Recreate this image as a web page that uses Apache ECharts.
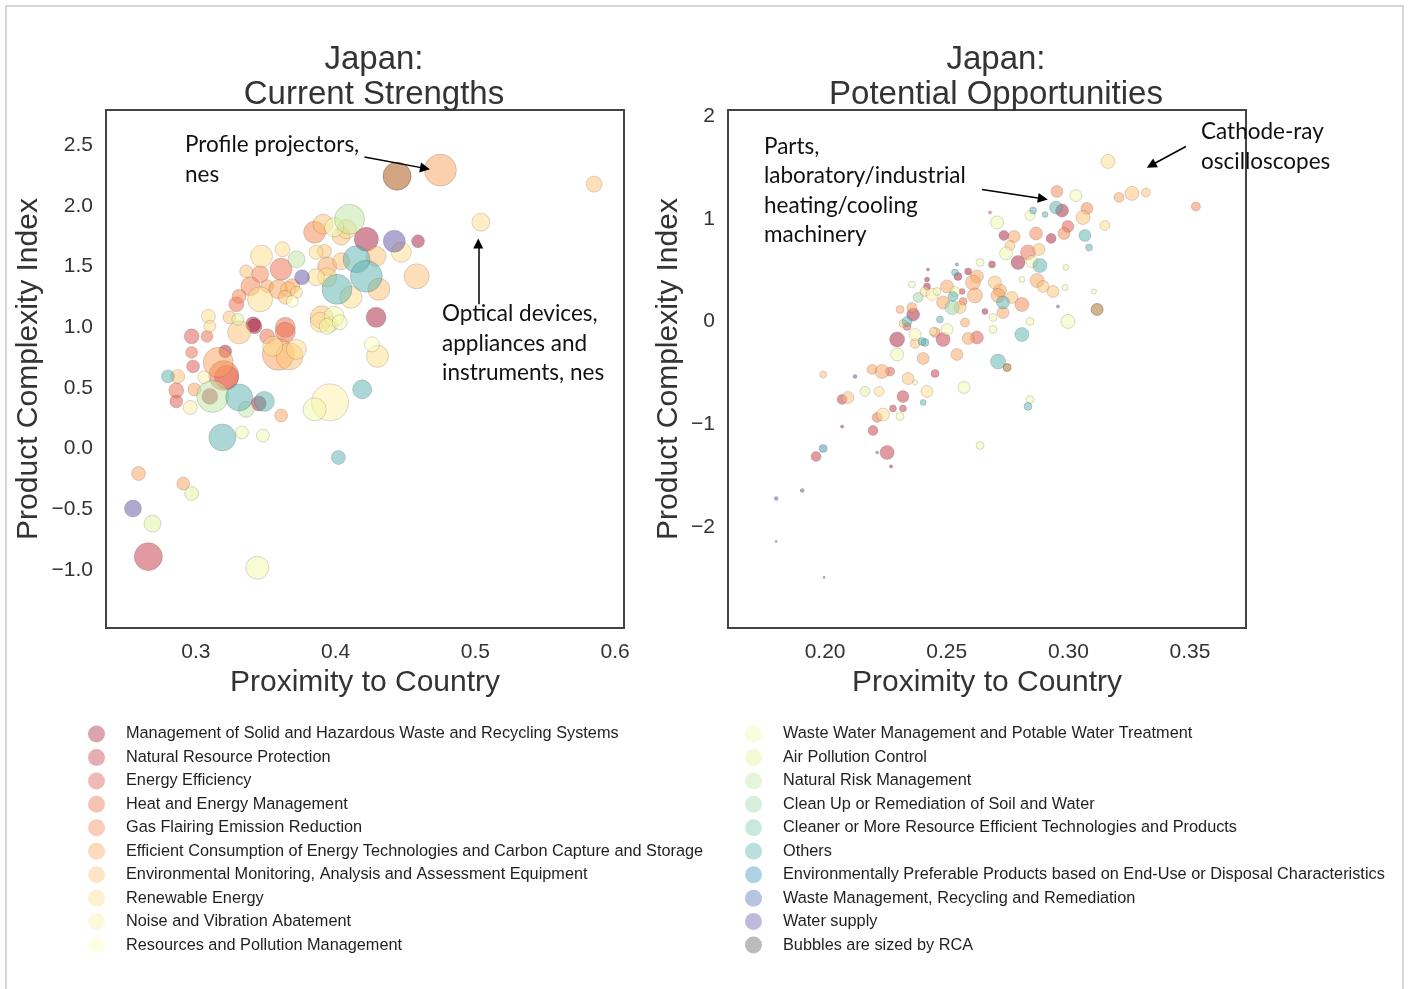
<!DOCTYPE html>
<html>
<head>
<meta charset="utf-8">
<script src="https://cdn.jsdelivr.net/npm/echarts@6/dist/echarts.min.js"></script>
<style>
  html, body { margin: 0; padding: 0; background: #ffffff; }
  #chart { width: 1408px; height: 989px; }
</style>
</head>
<body>
<div id="chart"></div>
<script>
// Environmental-goods product groups (legend order)
const categories = [
  'Management of Solid and Hazardous Waste and Recycling Systems',
  'Natural Resource Protection',
  'Energy Efficiency',
  'Heat and Energy Management',
  'Gas Flairing Emission Reduction',
  'Efficient Consumption of Energy Technologies and Carbon Capture and Storage',
  'Environmental Monitoring, Analysis and Assessment Equipment',
  'Renewable Energy',
  'Noise and Vibration Abatement',
  'Resources and Pollution Management',
  'Waste Water Management and Potable Water Treatment',
  'Air Pollution Control',
  'Natural Risk Management',
  'Clean Up or Remediation of Soil and Water',
  'Cleaner or More Resource Efficient Technologies and Products',
  'Others',
  'Environmentally Preferable Products based on End-Use or Disposal Characteristics',
  'Waste Management, Recycling and Remediation',
  'Water supply'
];
const sizeNote = 'Bubbles are sized by RCA';
const UNGROUPED = categories.length; // products without a group are drawn in gray

// Current strengths: proximity, complexity, RCA, product group
const strengthsProximity = [
  0.475, 0.444, 0.444, 0.585, 0.504, 0.410, 0.385, 0.391, 0.399, 0.408,
  0.404, 0.422, 0.442, 0.459, 0.447, 0.429, 0.415, 0.422, 0.401, 0.431,
  0.458, 0.411, 0.404, 0.394, 0.394, 0.386, 0.392, 0.386, 0.372, 0.361,
  0.376, 0.347, 0.362, 0.336, 0.346, 0.339, 0.351, 0.359, 0.366, 0.369,
  0.346, 0.331, 0.329, 0.364, 0.369, 0.372, 0.309, 0.324, 0.330, 0.341,
  0.364, 0.429, 0.390, 0.399, 0.396, 0.426, 0.430, 0.297, 0.308, 0.310,
  0.297, 0.298, 0.316, 0.320, 0.322, 0.321, 0.306, 0.280, 0.287, 0.286,
  0.286, 0.299, 0.296, 0.312, 0.310, 0.331, 0.336, 0.345, 0.349, 0.361,
  0.396, 0.385, 0.419, 0.319, 0.333, 0.348, 0.402, 0.331, 0.342, 0.351,
  0.364, 0.359, 0.355, 0.367, 0.372, 0.389, 0.394, 0.403, 0.259, 0.291,
  0.297, 0.255, 0.269, 0.266, 0.344
];
const strengthsComplexity = [
  2.294, 2.244, 2.244, 2.178, 1.865, 1.889, 1.782, 1.848, 1.823, 1.807,
  1.749, 1.724, 1.708, 1.708, 1.617, 1.584, 1.559, 1.419, 1.312, 1.312,
  1.419, 1.246, 1.543, 1.502, 1.411, 1.617, 1.625, 1.411, 1.559, 1.477,
  1.411, 1.584, 1.642, 1.460, 1.436, 1.337, 1.337, 1.312, 1.312, 1.337,
  1.229, 1.254, 1.188, 1.246, 1.213, 1.287, 1.089, 1.081, 1.064, 1.023,
  0.998, 1.081, 1.081, 1.089, 1.023, 0.858, 0.759, 0.924, 0.924, 1.007,
  0.792, 0.677, 0.710, 0.602, 0.586, 0.800, 0.586, 0.594, 0.594, 0.479,
  0.388, 0.487, 0.338, 0.429, 0.429, 0.421, 0.322, 0.371, 0.388, 0.272,
  0.380, 0.322, 0.487, 0.091, 0.132, 0.107, -0.074, 0.957, 1.007, 0.924,
  0.957, 0.776, 0.842, 0.759, 0.817, 1.040, 1.007, 1.040, -0.206, -0.289,
  -0.371, -0.495, -0.619, -0.891, -0.982
];
const strengthsRCA = [
  20.9, 16.0, 16.0, 5.2, 6.6, 18.4, 9.9, 8.2, 7.4, 7.4,
  6.6, 11.8, 9.9, 3.4, 8.2, 8.2, 14.9, 20.9, 18.4, 9.9,
  12.8, 9.9, 5.9, 7.4, 7.4, 4.0, 4.0, 5.9, 5.9, 9.9,
  4.6, 9.9, 4.6, 3.4, 5.9, 7.4, 3.4, 7.4, 4.6, 4.6,
  12.8, 4.0, 4.6, 4.0, 2.9, 2.9, 4.0, 3.4, 2.9, 4.6,
  8.2, 8.2, 10.8, 8.2, 5.2, 4.6, 9.9, 4.6, 2.9, 2.9,
  2.9, 3.4, 18.4, 18.4, 11.8, 3.4, 3.4, 3.4, 4.0, 4.6,
  3.4, 3.4, 4.0, 20.9, 5.2, 14.9, 5.2, 4.6, 8.2, 3.4,
  27.9, 10.8, 7.4, 14.9, 3.4, 3.4, 4.0, 10.8, 4.6, 4.6,
  8.2, 20.9, 8.2, 14.9, 8.2, 8.2, 5.2, 4.6, 4.0, 3.4,
  4.0, 5.9, 5.9, 16.0, 10.8
];
const strengthsGroup = [
  5, 19, 5, 6, 7, 12, 4, 6, 10, 7,
  6, 0, 18, 0, 7, 6, 15, 15, 15, 6,
  6, 7, 6, 5, 7, 7, 6, 7, 12, 3,
  18, 7, 7, 6, 4, 4, 5, 5, 6, 5,
  7, 4, 3, 6, 9, 7, 7, 6, 11, 0,
  3, 0, 6, 10, 7, 9, 7, 2, 3, 7,
  3, 2, 5, 3, 2, 0, 8, 15, 6, 3,
  2, 5, 8, 12, 0, 15, 12, 0, 15, 5,
  8, 10, 15, 15, 10, 10, 15, 6, 0, 3,
  3, 5, 7, 6, 7, 7, 10, 10, 5, 5,
  11, 18, 11, 1, 10
];

// Potential opportunities: proximity, complexity, RCA, product group
const opportunitiesProximity = [
  0.3163, 0.3261, 0.3208, 0.3319, 0.3524, 0.2953, 0.3031, 0.2949, 0.2974, 0.3076,
  0.3060, 0.2998, 0.3068, 0.3085, 0.3150, 0.2842, 0.2855, 0.2904, 0.2707, 0.2735,
  0.2777, 0.2867, 0.2929, 0.2982, 0.2760, 0.2744, 0.2834, 0.2879, 0.2793, 0.2883,
  0.2850, 0.2990, 0.2686, 0.2637, 0.2624, 0.2588, 0.2534, 0.2501, 0.2608, 0.2698,
  0.2719, 0.2871, 0.2896, 0.2809, 0.3105, 0.2460, 0.2419, 0.2563, 0.3118, 0.3118,
  0.2998, 0.2616, 0.2711, 0.2526, 0.2440, 0.2357, 0.2362, 0.2337, 0.2320, 0.2522,
  0.2555, 0.2575, 0.2472, 0.2657, 0.2731, 0.2731, 0.2809, 0.2690, 0.2809, 0.2842,
  0.2296, 0.2370, 0.2370, 0.2411, 0.2452, 0.2501, 0.2485, 0.2588, 0.2624, 0.2296,
  0.2403, 0.2542, 0.2711, 0.2748, 0.2748, 0.2193, 0.2234, 0.2267, 0.2452, 0.2341,
  0.2370, 0.1992, 0.2123, 0.2164, 0.2222, 0.2094, 0.2070, 0.2320, 0.2419, 0.2279,
  0.2320, 0.2238, 0.2214, 0.2308, 0.2571, 0.2197, 0.2403, 0.2842, 0.2834, 0.2637,
  0.1992, 0.1963, 0.2255, 0.1799, 0.1906, 0.1799, 0.1996, 0.2070, 0.2271, 0.2214,
  0.2678, 0.2423, 0.2542, 0.2957, 0.2546, 0.2382, 0.2308, 0.2485, 0.2567, 0.2768,
  0.2690, 0.2399, 0.2444, 0.2337, 0.2411, 0.2357, 0.2419, 0.2986, 0.2937, 0.2534
];
const opportunitiesComplexity = [
  1.557, 1.246, 1.207, 1.255, 1.119, 1.265, 1.226, 1.109, 1.080, 1.100,
  1.012, 0.925, 0.837, 0.720, 0.934, 1.032, 1.080, 1.041, 0.964, 0.837,
  0.827, 0.856, 0.808, 0.856, 0.740, 0.662, 0.672, 0.701, 0.574, 0.545,
  0.584, 0.526, 0.555, 0.574, 0.438, 0.487, 0.477, 0.341, 0.380, 0.380,
  0.302, 0.399, 0.341, 0.409, 0.292, 0.292, 0.341, 0.292, 0.117, 0.117,
  0.000, 0.253, 0.253, 0.243, 0.263, 0.136, 0.068, 0.000, -0.019, 0.136,
  0.136, -0.010, 0.019, 0.097, 0.088, 0.185, 0.165, -0.078, -0.127, 0.000,
  -0.175, -0.127, -0.214, -0.204, -0.107, -0.078, -0.175, -0.165, -0.156, -0.321,
  -0.360, -0.321, -0.389, -0.448, -0.448, -0.467, -0.487, -0.487, -0.506, -0.555,
  -0.594, -0.516, -0.535, -0.681, -0.681, -0.740, -0.759, -0.730, -0.681, -0.847,
  -0.847, -0.905, -0.934, -0.925, -0.642, -1.061, -0.788, -0.759, -0.827, -1.207,
  -1.236, -1.314, -1.275, -1.723, -1.645, -2.141, -2.491, -1.022, -1.411, -1.275,
  1.061, 0.506, 0.555, 0.146, 0.438, 0.234, 0.117, 0.185, 0.195, 0.234,
  0.039, -0.195, -0.097, -0.049, 0.292, 0.360, 0.409, 0.331, 0.292, 0.292
];
const opportunitiesRCA = [
  0.77, 0.77, 0.39, 0.32, 0.32, 0.56, 0.56, 0.66, 0.66, 0.56,
  0.77, 0.56, 0.56, 0.19, 0.39, 0.39, 0.19, 0.14, 0.66, 0.39,
  0.56, 0.66, 0.39, 0.56, 0.39, 0.66, 0.88, 0.56, 0.77, 0.77,
  0.56, 0.14, 0.19, 0.25, 0.66, 0.19, 0.19, 0.66, 0.88, 0.66,
  0.66, 0.77, 0.56, 0.14, 0.10, 0.25, 0.19, 0.14, 0.56, 0.56,
  0.77, 0.88, 0.77, 0.39, 0.56, 0.39, 0.66, 0.39, 0.25, 0.77,
  0.56, 0.32, 0.19, 0.14, 0.56, 0.66, 0.77, 0.25, 0.77, 0.25,
  0.88, 0.56, 0.39, 0.25, 0.39, 0.56, 0.77, 0.56, 0.66, 0.66,
  0.56, 0.56, 0.88, 0.25, 0.25, 0.39, 0.77, 0.32, 0.25, 0.56,
  0.10, 0.19, 0.06, 0.39, 0.39, 0.56, 0.39, 0.56, 0.56, 0.19,
  0.19, 0.66, 0.39, 0.25, 0.56, 0.39, 0.14, 0.25, 0.25, 0.25,
  0.25, 0.39, 0.77, 0.06, 0.06, 0.02, 0.02, 0.04, 0.04, 0.04,
  0.04, 0.04, 0.04, 0.04, 0.25, 0.39, 0.25, 0.66, 0.25, 0.56,
  0.25, 0.25, 0.25, 0.25, 0.39, 0.19, 0.10, 0.14, 0.56, 0.39
];
const opportunitiesGroup = [
  7, 6, 5, 6, 4, 4, 10, 15, 0, 4,
  6, 2, 15, 15, 7, 10, 15, 15, 10, 0,
  5, 4, 0, 4, 6, 10, 3, 6, 0, 15,
  10, 10, 0, 10, 5, 0, 15, 5, 5, 6,
  5, 5, 6, 10, 10, 10, 0, 1, 19, 6,
  10, 5, 5, 15, 8, 5, 0, 15, 6, 13,
  6, 5, 15, 0, 5, 15, 4, 10, 15, 10,
  0, 10, 6, 15, 4, 10, 1, 5, 2, 10,
  5, 5, 15, 19, 6, 5, 5, 2, 1, 6,
  10, 6, 18, 11, 7, 6, 1, 1, 7, 1,
  1, 7, 3, 10, 10, 1, 15, 10, 15, 10,
  16, 1, 1, 18, 18, 17, 18, 0, 0, 17,
  2, 0, 17, 18, 0, 13, 5, 5, 3, 6,
  10, 15, 10, 2, 7, 10, 0, 10, 6, 10
];

// Axis tick labels
const strengthsXTicks = [0.3, 0.4, 0.5, 0.6];
const strengthsYTicks = [-1.0, -0.5, 0.0, 0.5, 1.0, 1.5, 2.0, 2.5];
const opportunitiesXTicks = [0.20, 0.25, 0.30, 0.35];
const opportunitiesYTicks = [-2, -1, 0, 1, 2];

// Callout arrows (tail -> head, in data units)
const strengthsArrows = [
  [[0.4207, 2.401], [0.4640, 2.308]],
  [[0.5021, 1.188], [0.5021, 1.690]]
];
const opportunitiesArrows = [
  [[0.2645, 1.285], [0.2895, 1.195]],
  [[0.3483, 1.703], [0.3340, 1.520]]
];

// Spectral-style palette, one colour per product group, gray last
const palette = [
  [165, 25, 55], [195, 50, 65], [220, 80, 72], [236, 105, 70], [246, 130, 76],
  [251, 160, 90], [253, 191, 111], [254, 218, 134], [254, 238, 162], [255, 255, 191],
  [241, 249, 169], [223, 242, 153], [191, 229, 160], [156, 215, 164], [117, 200, 165],
  [85, 175, 173], [56, 142, 186], [70, 111, 177], [94, 79, 162], [85, 85, 85]
];
const rgba = (c, a) => `rgba(${c[0]},${c[1]},${c[2]},${a})`;
const BUBBLE_ALPHA = 0.62;
const LEGEND_ALPHA = 0.5;
const SANS = 'Liberation Sans';
const minus = s => s.replace('-', '\u2212');

function scatterFor(name, colorIndex, prox, comp, rca, group, axisIndex, scale) {
  const data = [];
  for (let i = 0; i < prox.length; i++) {
    if (group[i] === colorIndex) data.push([prox[i], comp[i], rca[i]]);
  }
  return {
    type: 'scatter',
    name,
    xAxisIndex: axisIndex,
    yAxisIndex: axisIndex,
    data,
    symbolSize: v => scale * Math.sqrt(v[2]),
    itemStyle: {
      color: rgba(palette[colorIndex], BUBBLE_ALPHA),
      borderColor: 'rgba(60,60,60,0.4)',
      borderWidth: 0.6
    },
    emphasis: { disabled: true },
    silent: true,
    animation: false
  };
}

function bubbleSeries(prox, comp, rca, group, axisIndex, scale) {
  // gray (ungrouped) products first so the coloured groups sit on top
  const list = [scatterFor(sizeNote, UNGROUPED, prox, comp, rca, group, axisIndex, scale)];
  categories.forEach((name, c) => {
    list.push(scatterFor(name, c, prox, comp, rca, group, axisIndex, scale));
  });
  return list;
}

function arrowSeries(arrows, axisIndex) {
  return {
    type: 'scatter',
    name: 'callouts-' + axisIndex,
    xAxisIndex: axisIndex,
    yAxisIndex: axisIndex,
    data: [],
    silent: true,
    animation: false,
    z: 5,
    markLine: {
      silent: true,
      animation: false,
      symbol: ['none', 'triangle'],
      symbolSize: 10,
      label: { show: false },
      emphasis: { disabled: true },
      lineStyle: { color: '#000', width: 1.5, type: 'solid' },
      data: arrows.map(a => [{ coord: a[0] }, { coord: a[1] }])
    }
  };
}

function valueAxis(gridIndex, min, max, ticks, digits, name, nameGap, isY) {
  return {
    type: 'value',
    gridIndex,
    min,
    max,
    name,
    nameLocation: 'middle',
    nameGap,
    nameTextStyle: { fontSize: 30, color: '#333', fontFamily: SANS },
    axisLine: { show: false },
    axisTick: { show: false },
    splitLine: { show: false },
    axisLabel: {
      customValues: ticks,
      formatter: v => minus(Number(v).toFixed(digits)),
      fontSize: 21,
      color: '#333',
      fontFamily: SANS,
      margin: isY ? 13 : 14
    }
  };
}

function legendItems(names, offset) {
  return names.map((name, i) => ({
    name,
    itemStyle: { color: rgba(palette[offset + i], LEGEND_ALPHA), borderWidth: 0 }
  }));
}

const legendBase = {
  orient: 'vertical',
  top: 720.5,
  itemWidth: 17,
  itemHeight: 17,
  itemGap: 6.45,
  icon: 'circle',
  selectedMode: false,
  itemStyle: { borderWidth: 0 },
  textStyle: {
    fontFamily: SANS,
    fontSize: 16.3,
    color: '#1f1f1f',
    lineHeight: 17,
    padding: [0, 0, 0, 16]
  }
};

const annotationFont = { fontFamily: 'Lato', fontSize: 22.5, fill: '#111' };
const titleStyle = { fontSize: 33, fontWeight: 'normal', color: '#333', lineHeight: 35, fontFamily: SANS };

const option = {
  backgroundColor: '#ffffff',
  animation: false,
  title: [
    { text: 'Japan:\nCurrent Strengths', left: 369, top: 37, textAlign: 'center', textStyle: titleStyle },
    { text: 'Japan:\nPotential Opportunities', left: 991, top: 37, textAlign: 'center', textStyle: titleStyle }
  ],
  grid: [
    { left: 106, top: 110, width: 518, height: 518, show: true, borderColor: '#444', borderWidth: 2, backgroundColor: 'transparent' },
    { left: 728, top: 110, width: 518, height: 518, show: true, borderColor: '#444', borderWidth: 2, backgroundColor: 'transparent' }
  ],
  xAxis: [
    valueAxis(0, 0.2357, 0.6064, strengthsXTicks, 1, 'Proximity to Country', 38, false),
    valueAxis(1, 0.1601, 0.3730, opportunitiesXTicks, 2, 'Proximity to Country', 38, false)
  ],
  yAxis: [
    valueAxis(0, -1.479, 2.789, strengthsYTicks, 1, 'Product Complexity Index', 62, true),
    valueAxis(1, -2.983, 2.058, opportunitiesYTicks, 0, 'Product Complexity Index', 44, true)
  ],
  legend: [
    Object.assign({}, legendBase, { left: 83, data: legendItems(categories.slice(0, 10), 0) }),
    Object.assign({}, legendBase, { left: 740, data: legendItems(categories.slice(10).concat([sizeNote]), 10) })
  ],
  series: [].concat(
    bubbleSeries(strengthsProximity, strengthsComplexity, strengthsRCA, strengthsGroup, 0, 7),
    bubbleSeries(opportunitiesProximity, opportunitiesComplexity, opportunitiesRCA, opportunitiesGroup, 1, 16),
    [arrowSeries(strengthsArrows, 0), arrowSeries(opportunitiesArrows, 1)]
  ),
  graphic: [
    {
      type: 'rect', silent: true, z: -10,
      shape: { x: 6, y: 6, width: 1397, height: 995 },
      style: { fill: 'none', stroke: '#c9c6d4', lineWidth: 1.5 }
    },
    {
      type: 'text', left: 185, top: 130, z: 100, silent: true,
      style: Object.assign({ text: 'Profile projectors,\nnes', lineHeight: 30 }, annotationFont)
    },
    {
      type: 'text', left: 442, top: 299, z: 100, silent: true,
      style: Object.assign({ text: 'Optical devices,\nappliances and\ninstruments, nes', lineHeight: 29.5 }, annotationFont)
    },
    {
      type: 'text', left: 764, top: 132, z: 100, silent: true,
      style: Object.assign({ text: 'Parts,\nlaboratory/industrial\nheating/cooling\nmachinery', lineHeight: 29.3 }, annotationFont)
    },
    {
      type: 'text', left: 1201, top: 117, z: 100, silent: true,
      style: Object.assign({ text: 'Cathode-ray\noscilloscopes', lineHeight: 30 }, annotationFont)
    }
  ]
};

const chart = echarts.init(document.getElementById('chart'), null, { renderer: 'canvas' });
chart.setOption(option);
</script>
</body>
</html>
